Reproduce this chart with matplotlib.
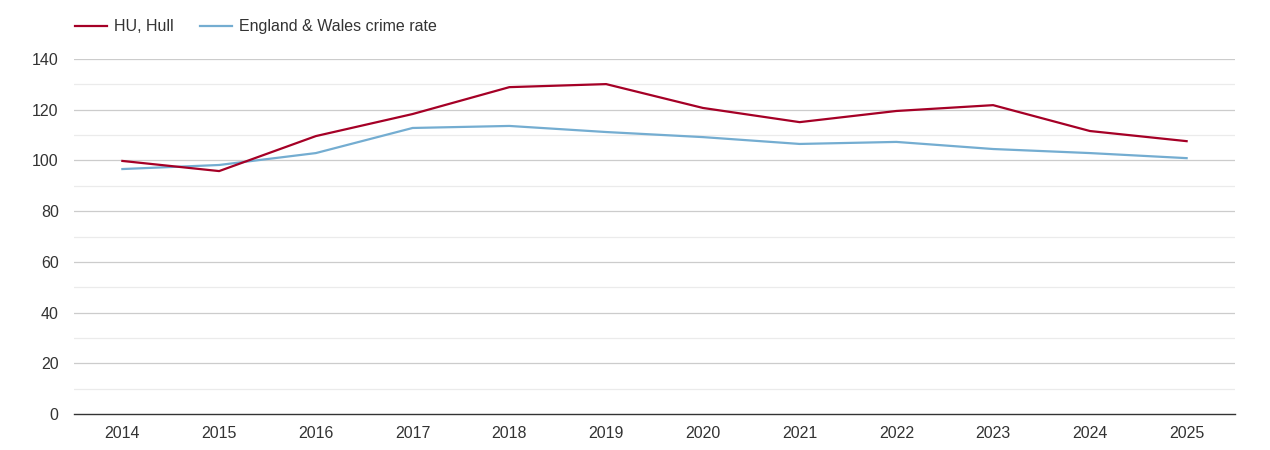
import matplotlib
matplotlib.use('Agg')
import matplotlib.pyplot as plt

# data
years = [2014, 2015, 2016, 2017, 2018, 2019, 2020, 2021, 2022, 2023, 2024, 2025]
hull = [99.8, 95.8, 109.6, 118.3, 128.9, 130.1, 120.7, 115.1, 119.5, 121.8, 111.6, 107.6]
england_wales = [96.6, 98.2, 102.9, 112.8, 113.6, 111.2, 109.2, 106.5, 107.3, 104.5, 102.9, 100.9]
y_ticks = [0, 20, 40, 60, 80, 100, 120, 140]

plt.rcParams['font.family'] = ['Liberation Sans', 'DejaVu Sans']

fig = plt.figure(figsize=(12.7, 4.5), dpi=100)
ax = fig.add_axes([74 / 1270, 1 - 414 / 450, (1235 - 74) / 1270, (414 - 59) / 450])

# grid lines, major every 20 and minor every 10
for v in range(10, 141, 10):
    if v % 20 == 0:
        ax.axhline(v, color='#cccccc', lw=0.9, zorder=0)
    else:
        ax.axhline(v, color='#ebebeb', lw=0.9, zorder=0)

ax.plot(years, hull, color='#a50026', lw=1.6, label='HU, Hull', zorder=3)
ax.plot(years, england_wales, color='#74add1', lw=1.6, label='England & Wales crime rate', zorder=2)

ax.set_xlim(years[0] - 0.5, years[-1] + 0.5)
ax.set_ylim(0, 140)
ax.set_xticks(years)
ax.set_yticks(y_ticks)

for s in ['top', 'right', 'left']:
    ax.spines[s].set_visible(False)
ax.spines['bottom'].set_color('#333333')
ax.spines['bottom'].set_linewidth(1)
ax.tick_params(axis='both', length=0, labelsize=11.5, colors='#333333')
ax.tick_params(axis='x', pad=9)
ax.tick_params(axis='y', pad=11)

fig.legend(loc='upper left', bbox_to_anchor=(61 / 1270, 1 - 5 / 450), ncol=2,
           frameon=False, fontsize=11.5, handlelength=2.0, handletextpad=0.4,
           columnspacing=1.7, labelcolor='#333333')

fig.savefig('out.png', dpi=100)
